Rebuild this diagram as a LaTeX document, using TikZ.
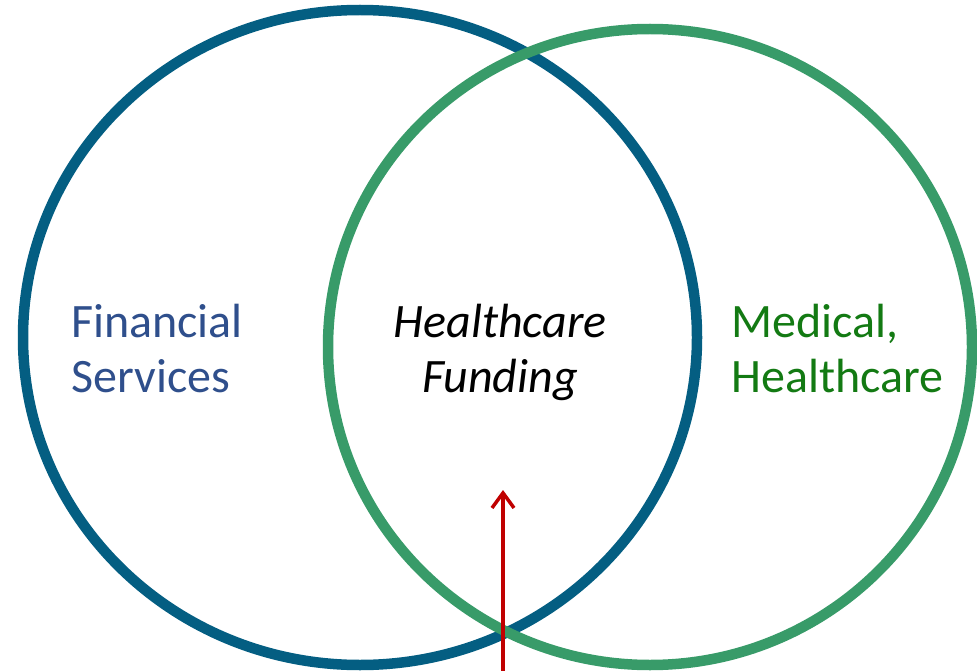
\documentclass[tikz,border=0pt]{standalone}
\usepackage{fontspec}
\setmainfont{Carlito}
\usetikzlibrary{arrows.meta}
\definecolor{finring}{HTML}{045E82}
\definecolor{medring}{HTML}{389B69}
\definecolor{fintext}{HTML}{2F4F8C}
\definecolor{medtext}{HTML}{137A13}
\definecolor{arrowred}{HTML}{C00000}

\begin{document}
\begin{tikzpicture}[x=1pt,y=-1pt]
    \tikzstyle{ring}=[line width=10.5pt]
    \tikzstyle{areatext}=[inner sep=0pt, align=left, font=\fontsize{48}{55}\selectfont]
    \useasboundingbox (0,0) rectangle (977,671);
    % the two sets
    \draw[ring, finring] (360,337.5) ellipse [x radius=337pt, y radius=327.5pt];
    \draw[ring, medring] (650,347) ellipse [x radius=322pt, y radius=318pt];
    % area labels (base is the last line)
    \node[areatext, text=fintext, anchor=base west] (fin) at (71,392) {Financial\\Services};
    \node[areatext, align=center, anchor=base, font=\fontsize{48}{55}\selectfont\itshape] (fund) at (500,392) {Healthcare\\Funding};
    \node[areatext, text=medtext, anchor=base west] (med) at (731,392) {Medical,\\Healthcare};
    % pointer into the overlap
    \coordinate (foot) at (503,671);
    \coordinate (tip) at (503,490);
    \draw[arrowred, line width=3.5pt, -{Straight Barb[length=15pt,width=22pt]}] (foot) -- (tip);
\end{tikzpicture}
\end{document}
